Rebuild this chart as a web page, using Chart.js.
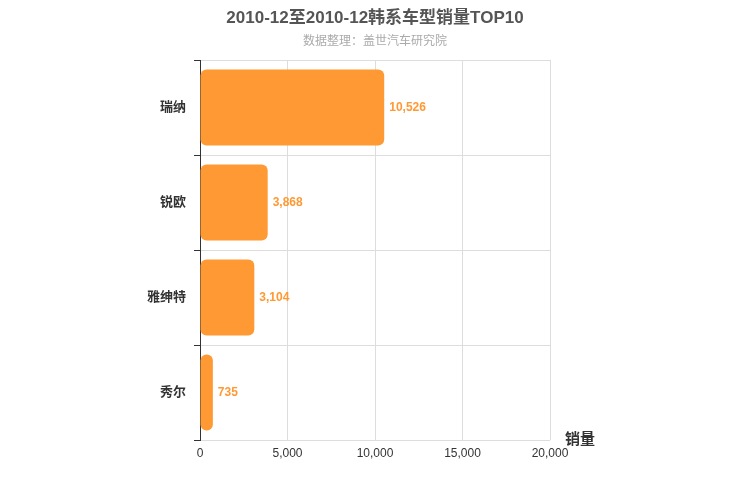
<!DOCTYPE html>
<html><head><meta charset="utf-8">
<script src="https://cdn.jsdelivr.net/npm/chart.js@4"></script>
<style>body{margin:0;background:#fff}#wrap{width:750px;height:500px}</style>
</head><body><div id="wrap"><canvas id="c"></canvas></div>
<script>
const categories = ['瑞纳', '锐欧', '雅绅特', '秀尔'];
const sales = [10526, 3868, 3104, 735];
const xTicks = [0, 5000, 10000, 15000, 20000];
const FONT = '"Liberation Sans", "Noto Sans CJK SC", sans-serif';

const decor = {
  id: 'decor',
  afterDraw(chart) {
    const c = chart.ctx;
    c.save();
    c.textAlign = 'center';
    c.fillStyle = '#555';
    c.font = 'bold 17px ' + FONT;
    c.fillText('2010-12至2010-12韩系车型销量TOP10', 375, 23);
    c.fillStyle = '#aaa';
    c.font = '12px ' + FONT;
    c.fillText('数据整理：盖世汽车研究院', 375, 45);
    c.fillStyle = '#333';
    c.font = 'bold 15px ' + FONT;
    c.textAlign = 'left';
    c.fillText('销量', 565, 444);
    // value labels
    const meta = chart.getDatasetMeta(0);
    c.fillStyle = '#ff9933';
    c.font = 'bold 12px ' + FONT;
    c.textBaseline = 'middle';
    meta.data.forEach((bar, i) => {
      c.fillText(sales[i].toLocaleString('en-US'), bar.x + 5, bar.y);
    });
    c.restore();
  }
};

new Chart(document.getElementById('c'), {
  type: 'bar',
  data: {
    labels: categories,
    datasets: [{
      data: sales,
      backgroundColor: '#ff9933',
      borderRadius: 6,
      borderSkipped: false,
      barPercentage: 0.8,
      categoryPercentage: 1
    }]
  },
  options: {
    indexAxis: 'y',
    responsive: true,
    maintainAspectRatio: false,
    animation: false,
    layout: { padding: { top: 60, right: 200, left: 0, bottom: 0 } },
    plugins: { legend: { display: false }, tooltip: { enabled: false } },
    scales: {
      x: {
        min: 0, max: 20000,
        afterBuildTicks: s => { s.ticks = xTicks.map(v => ({ value: v })); },
        afterFit: s => { s.height = 60; },
        grid: { color: '#ddd', drawTicks: false },
        border: { display: false },
        ticks: { color: '#333', font: { family: FONT, size: 12 }, padding: 6,
          callback: v => v.toLocaleString('en-US') }
      },
      y: {
        afterFit: s => { s.width = 200; },
        grid: { color: '#ddd', offset: true, tickLength: 6, tickColor: '#333' },
        border: { color: '#333', width: 1 },
        ticks: { color: '#333', font: { family: FONT, size: 13, weight: 'bold' }, padding: 8 }
      }
    }
  },
  plugins: [decor]
});
</script></body></html>
